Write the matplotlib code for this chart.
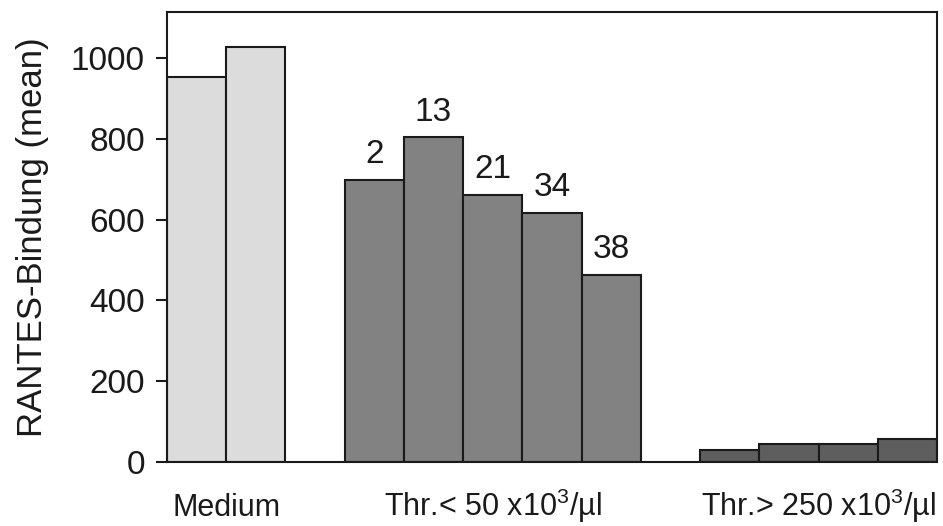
import matplotlib
matplotlib.use("Agg")
import matplotlib.pyplot as plt
from matplotlib.transforms import blended_transform_factory

plt.rcParams['font.family'] = ['Liberation Sans', 'DejaVu Sans']
plt.rcParams['mathtext.fontset'] = 'custom'
plt.rcParams['mathtext.rm'] = 'Liberation Sans'
plt.rcParams['mathtext.it'] = 'Liberation Sans'

# RANTES binding (mean) per sample
medium_vals = [953, 1027]
low_vals = [698, 804, 661, 616, 463]
low_labels = ["2", "13", "21", "34", "38"]
high_vals = [30, 45, 45, 57]

group_names = ["Medium", "Thr.< 50 x10$^{3}$/µl", "Thr.> 250 x10$^{3}$/µl"]
group_colors = ["#dcdcdc", "#828282", "#5e5e5e"]
yticks = [0, 200, 400, 600, 800, 1000]

fig = plt.figure(figsize=(9.43, 5.26), dpi=100)
ax = fig.add_axes([167/943, 1 - 462/526, 770/943, 450/526])

groups = [medium_vals, low_vals, high_vals]
label_x = [1.0, 5.5, 11.0]
pos = 0
bars_low = None
for i, vals in enumerate(groups):
    xs = list(range(pos, pos + len(vals)))
    b = ax.bar(xs, vals, width=1.0, align='edge', color=group_colors[i],
               edgecolor='#1a1a1a', linewidth=1.5, zorder=2)
    if i == 1:
        bars_low = b
    pos += len(vals) + 1

for rect, lab in zip(bars_low, low_labels):
    ax.annotate(lab, (rect.get_x() + rect.get_width() / 2, rect.get_height()),
                xytext=(0, 7), textcoords='offset points', ha='center', va='bottom',
                fontsize=24, color='#1a1a1a')

ax.set_xlim(0, 13)
ax.set_ylim(0, 1114)
ax.set_yticks(yticks)
ax.set_xticks([])
ax.tick_params(axis='y', direction='out', length=8, width=1.5, labelsize=24,
               colors='#1a1a1a', pad=8)
for s in ax.spines.values():
    s.set_linewidth(1.5)
    s.set_color('#1a1a1a')
ax.set_ylabel("RANTES-Bindung (mean)", fontsize=25, color='#1a1a1a', labelpad=16)

trans = blended_transform_factory(ax.transData, ax.transAxes)
for x, name in zip(label_x, group_names):
    ax.text(x, -0.12, name, transform=trans, ha='center', va='baseline',
            fontsize=22, color='#1a1a1a')

fig.savefig("out.png", dpi=100)
